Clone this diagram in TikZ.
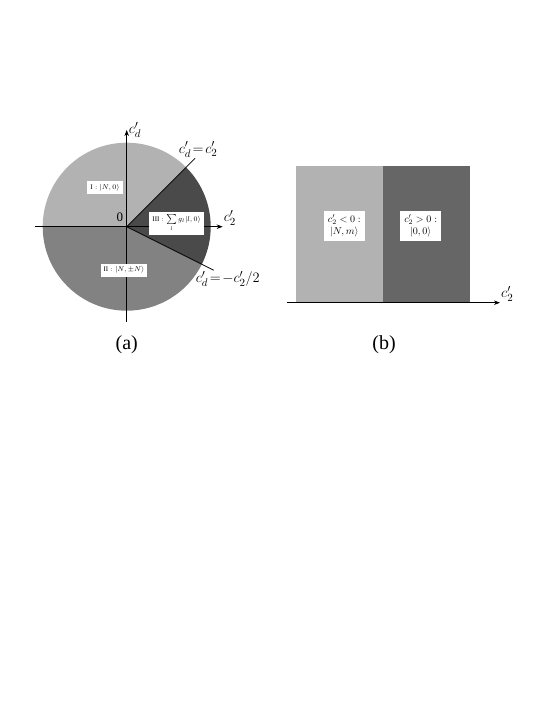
\documentclass[tikz,border=0pt]{standalone}
\usepackage{fontspec}
\setmainfont{Liberation Serif}
\usetikzlibrary{arrows.meta}

\definecolor{phaseI}{gray}{0.70}
\definecolor{phaseII}{gray}{0.51}
\definecolor{phaseIII}{gray}{0.29}
\definecolor{phasePos}{gray}{0.40}

\tikzset{
  axisline/.style={line width=0.8pt, ->},
  phaseline/.style={line width=0.8pt},
  phasetag/.style={fill=white, inner sep=3pt, font=\fontsize{7}{8}\selectfont},
  phasebox/.style={fill=white, inner sep=4pt, align=center, font=\fontsize{10}{12}\selectfont},
  biglabel/.style={font=\fontsize{15}{17}\selectfont},
  panellabel/.style={font=\fontsize{20}{24}\selectfont}
}

\begin{document}
\begin{tikzpicture}[x=1pt, y=1pt, >={Stealth[length=6pt,width=4.5pt]}]
  \useasboundingbox (-126.7,-486.3) rectangle (424.3,226.7);

  % ---- Panel (a): phase circle ----
  \coordinate (O) at (0,0);
  % Sectors
  \fill[phaseI] (O) -- (45:84) arc (45:180:84) -- cycle;
  \fill[phaseII] (O) -- (180:84) arc (180:333.43:84) -- cycle;
  \fill[phaseIII] (O) -- (-26.57:84) arc (-26.57:45:84) -- cycle;
  % Axes
  \coordinate (xa) at (-91.7,0);
  \coordinate (xb) at (96,0);
  \coordinate (ya) at (0,-95);
  \coordinate (yb) at (0,96.7);
  \draw[axisline] (xa) -- (xb);
  \draw[axisline] (ya) -- (yb);
  \node[biglabel, anchor=south west, inner sep=1pt] (c2a) at (xb) {$c_2'$};
  \node[biglabel, anchor=west, inner sep=2pt] (cda) at (yb) {$c_d'$};
  \node[font=\fontsize{13}{15}\selectfont] (zero) at (-6.7,9) {0};
  % Phase boundaries
  \coordinate (up) at (45:96.7);
  \coordinate (dn) at (87,-43.5);
  \draw[phaseline] (O) -- (up);
  \draw[phaseline] (O) -- (dn);
  \node[biglabel, anchor=south, inner sep=1pt] (lineup) at ([xshift=3pt]up) {$c_d'\!=\!c_2'$};
  \node[biglabel, anchor=north west, inner sep=1pt] (linedn) at ([xshift=-19pt]dn) {$c_d'\!=\!-c_2'/2$};
  % Phase tags
  \node[phasetag] (tagI) at (-21.7,39.4) {$\mathrm{I}:|N,0\rangle$};
  \node[phasetag] (tagIII) at (50,3.7) {$\mathrm{III}:\sum\limits_{l} g_l|l,0\rangle$};
  \node[phasetag] (tagII) at (-2.7,-43.3) {$\mathrm{II}:|N,\pm N\rangle$};
  % Label
  \node[panellabel] (pa) at (0,-118.3) {(a)};

  % ---- Panel (b): bar ----
  \fill[phaseI] (169.3,-76) rectangle (256.6,60.7);
  \fill[phasePos] (256.6,-76) rectangle (343.3,60.7);
  \coordinate (ba) at (160,-76);
  \coordinate (bb) at (373.3,-76);
  \draw[axisline] (ba) -- (bb);
  \node[biglabel, anchor=south west, inner sep=1pt] (c2b) at (bb) {$c_2'$};
  \node[phasebox] (neg) at (217.6,0.9) {$c_2'<0:$\\$|N,m\rangle$};
  \node[phasebox] (pos) at (294,0.9) {$c_2'>0:$\\$|0,0\rangle$};
  % Label
  \node[panellabel] (pb) at (257.3,-118.3) {(b)};
\end{tikzpicture}
\end{document}
